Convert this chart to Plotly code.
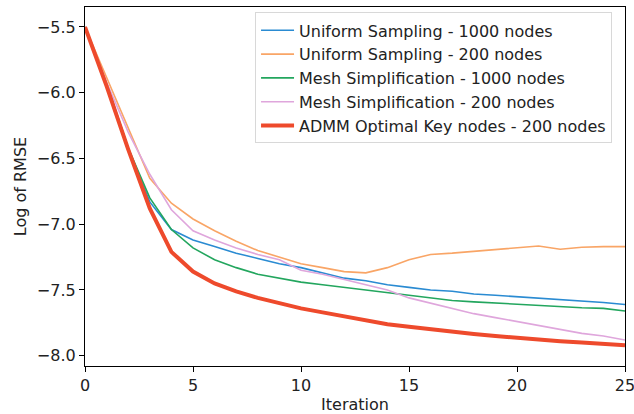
import plotly.graph_objects as go

iterations = list(range(26))

uniform_1000 = [-5.50, -5.93, -6.42, -6.83, -7.04, -7.12, -7.17, -7.22, -7.26, -7.30,
                -7.33, -7.37, -7.41, -7.43, -7.46, -7.48, -7.50, -7.51, -7.53, -7.54,
                -7.55, -7.56, -7.57, -7.58, -7.595, -7.61]
uniform_200 = [-5.50, -5.88, -6.27, -6.65, -6.84, -6.96, -7.05, -7.13, -7.20, -7.25,
               -7.30, -7.33, -7.36, -7.37, -7.33, -7.27, -7.23, -7.22, -7.205, -7.19,
               -7.18, -7.165, -7.19, -7.175, -7.17, -7.17]
mesh_1000 = [-5.50, -5.93, -6.42, -6.80, -7.04, -7.18, -7.27, -7.33, -7.38, -7.41,
             -7.44, -7.46, -7.48, -7.50, -7.52, -7.54, -7.56, -7.58, -7.59, -7.60,
             -7.61, -7.62, -7.63, -7.635, -7.64, -7.66]
mesh_200 = [-5.50, -5.92, -6.30, -6.62, -6.89, -7.05, -7.12, -7.18, -7.23, -7.27,
            -7.35, -7.38, -7.42, -7.46, -7.50, -7.56, -7.60, -7.64, -7.68, -7.71,
            -7.74, -7.77, -7.80, -7.83, -7.85, -7.88]
admm_200 = [-5.50, -5.95, -6.43, -6.88, -7.21, -7.36, -7.45, -7.51, -7.56, -7.60,
            -7.64, -7.67, -7.70, -7.73, -7.76, -7.78, -7.80, -7.82, -7.835, -7.85,
            -7.865, -7.875, -7.89, -7.90, -7.91, -7.92]

series = [
    ("Uniform Sampling - 1000 nodes", uniform_1000, "#2a8bd2", 1.6),
    ("Uniform Sampling - 200 nodes", uniform_200, "#f9a566", 1.6),
    ("Mesh Simplification - 1000 nodes", mesh_1000, "#23a65e", 1.6),
    ("Mesh Simplification - 200 nodes", mesh_200, "#dfa6dc", 1.6),
    ("ADMM Optimal Key nodes - 200 nodes", admm_200, "#ee4a2c", 4.0),
]

fig = go.Figure()
for i, (name, vals, color, w) in enumerate(series):
    fig.add_trace(go.Scatter(x=iterations, y=vals, mode="lines", name=name,
                             legendgroup=f"g{i}",
                             line=dict(color=color, width=w)))

font = dict(family="DejaVu Sans", size=16, color="#222222")

fig.update_layout(
    width=634, height=414,
    margin=dict(l=85, r=9, t=7, b=48, autoexpand=False),
    paper_bgcolor="white", plot_bgcolor="white",
    font=font,
    showlegend=True,
    legend=dict(x=0.976, y=0.985, xanchor="right", yanchor="top",
                bgcolor="rgba(255,255,255,0.85)", bordercolor="#d8d8d8", borderwidth=1,
                font=font, tracegroupgap=0, itemwidth=33),
    xaxis=dict(range=[0, 25], tickmode="array", tickvals=[0, 5, 10, 15, 20, 25],
               ticklabeloverflow="allow", automargin=False,
               showgrid=False, zeroline=False, showline=True, linecolor="black",
               linewidth=1.2, mirror=True, ticks="outside", ticklen=5, tickcolor="black",
               title=dict(text="Iteration", standoff=4, font=font)),
    yaxis=dict(range=[-8.078, -5.348], tickmode="array", automargin=False,
               tickvals=[-8.0, -7.5, -7.0, -6.5, -6.0, -5.5],
               ticktext=["\u22128.0", "\u22127.5", "\u22127.0", "\u22126.5", "\u22126.0", "\u22125.5"],
               showgrid=False, zeroline=False, showline=True, linecolor="black",
               linewidth=1.2, mirror=True, ticks="outside", ticklen=5, tickcolor="black",
               title=dict(text="Log of RMSE", standoff=6, font=font)),
)

fig.write_html("out.html")
